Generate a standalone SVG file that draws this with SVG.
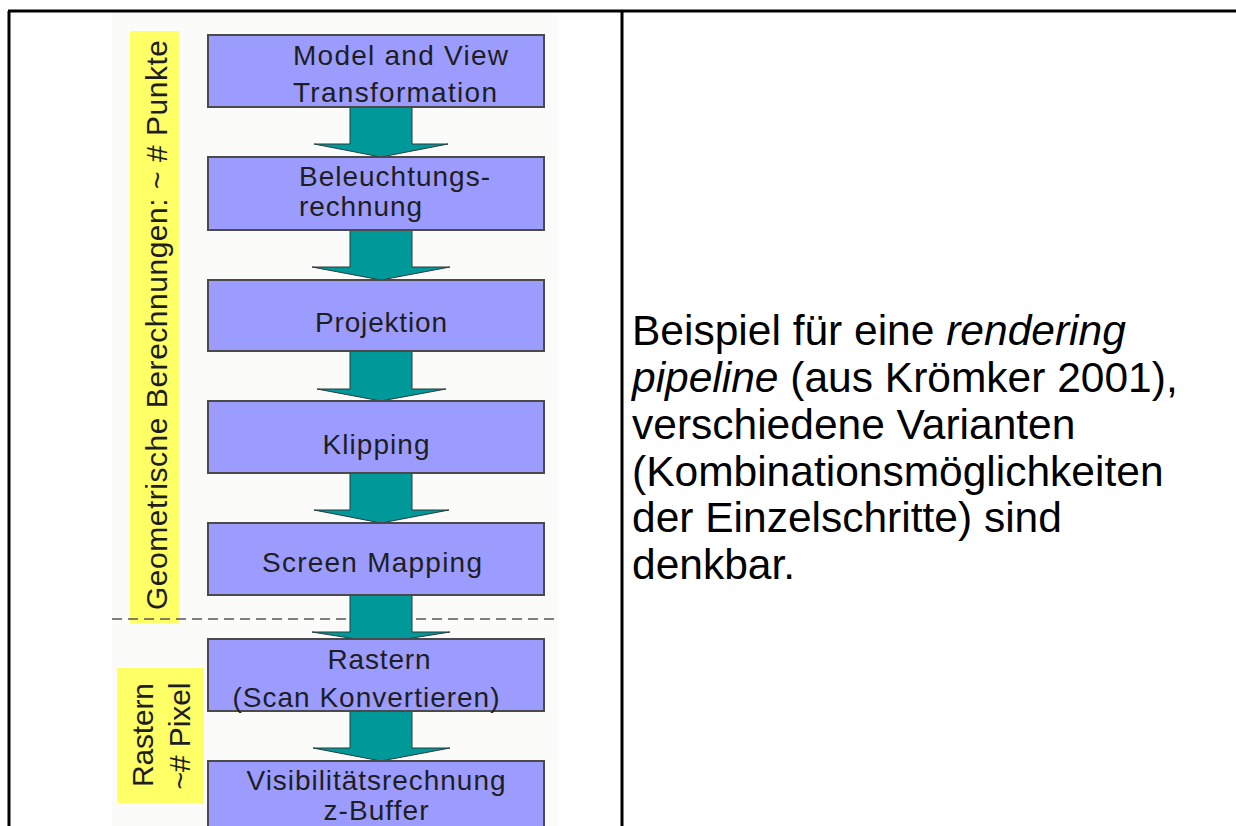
<svg xmlns="http://www.w3.org/2000/svg" width="1236" height="826" viewBox="0 0 1236 826">
<style>
.bx{fill:#9c9cff;stroke:#4a4a4a;stroke-width:2}
.bt{font-family:"Liberation Sans",Arial,sans-serif;font-size:28px;fill:#1e1e1e}
.vt{font-family:"Liberation Sans",Arial,sans-serif;font-size:30px;fill:#1e1e1e}
.yl{fill:#ffff66}
.ar{fill:#009999;stroke:#2a3a3a;stroke-width:1}
.rt{font-family:"Liberation Sans",Arial,sans-serif;font-size:42.5px;fill:#000}
</style>
<rect x="0" y="0" width="1236" height="826" fill="#fff"/>
<rect x="112" y="13" width="446" height="813" fill="#fbfcf9"/>
<g id="table" fill="none" stroke="#000" stroke-width="3">
<line x1="8" y1="11" x2="1236" y2="11"/>
<line x1="9" y1="11" x2="9" y2="826"/>
<line x1="622" y1="11" x2="622" y2="826"/>
</g>
<g id="label-geometrie">
<rect class="yl" x="130" y="31" width="49" height="592"/>
<text class="vt" transform="translate(167,325) rotate(-90)" text-anchor="middle" textLength="570" lengthAdjust="spacing">Geometrische Berechnungen:  ~ # Punkte</text>
</g>
<g id="label-raster">
<rect class="yl" x="117" y="668" width="87" height="135"/>
<text class="vt" transform="translate(153,735) rotate(-90)" text-anchor="middle" textLength="104" lengthAdjust="spacing">Rastern</text>
<text class="vt" transform="translate(190,736) rotate(-90)" text-anchor="middle" textLength="107" lengthAdjust="spacing">~# Pixel</text>
</g>
<line id="divider" x1="112" y1="619" x2="558" y2="619" stroke="#555" stroke-width="1.5" stroke-dasharray="10 6"/>
<g id="connectors">
<polygon class="ar" points="350,107 412,107 412,144 448,144 381,157 314,144 350,144"/>
<polygon class="ar" points="350,230 412,230 412,267 450,267 381,280 312,267 350,267"/>
<polygon class="ar" points="350,351 412,351 412,389 446,389 381,401 317,389 350,389"/>
<polygon class="ar" points="350,473 412,473 412,510 449,510 381,523 314,510 350,510"/>
<polygon class="ar" points="350,595 412,595 412,632 450,632 381,643 312,632 350,632"/>
<polygon class="ar" points="350,711 412,711 412,748 450,748 381,761 313,748 350,748"/>
</g>
<g id="n1"><rect class="bx" x="208" y="35" width="336" height="72"/>
<text class="bt" x="293" y="65" textLength="215" lengthAdjust="spacing">Model and View</text>
<text class="bt" x="293" y="102" textLength="204" lengthAdjust="spacing">Transformation</text></g>
<g id="n2"><rect class="bx" x="208" y="157" width="336" height="73"/>
<text class="bt" x="299" y="186" font-size="26" textLength="191" lengthAdjust="spacing">Beleuchtungs-</text>
<text class="bt" x="299" y="216" font-size="26" textLength="123" lengthAdjust="spacing">rechnung</text></g>
<g id="n3"><rect class="bx" x="208" y="280" width="336" height="71"/>
<text class="bt" x="381" y="332" text-anchor="middle" textLength="132" lengthAdjust="spacing">Projektion</text></g>
<g id="n4"><rect class="bx" x="208" y="401" width="336" height="72"/>
<text class="bt" x="376" y="454" text-anchor="middle" textLength="107" lengthAdjust="spacing">Klipping</text></g>
<g id="n5"><rect class="bx" x="208" y="523" width="336" height="72"/>
<text class="bt" x="372" y="572" text-anchor="middle" textLength="220" lengthAdjust="spacing">Screen Mapping</text></g>
<g id="n6"><rect class="bx" x="208" y="639" width="336" height="72"/>
<text class="bt" x="379" y="669" text-anchor="middle" textLength="103" lengthAdjust="spacing">Rastern</text>
<text class="bt" x="366" y="707" text-anchor="middle" textLength="267" lengthAdjust="spacing">(Scan Konvertieren)</text></g>
<g id="n7"><rect class="bx" x="208" y="761" width="336" height="80"/>
<text class="bt" x="376" y="790" text-anchor="middle" textLength="259" lengthAdjust="spacing">Visibilitätsrechnung</text>
<text class="bt" x="376" y="820" text-anchor="middle" textLength="105" lengthAdjust="spacing">z-Buffer</text></g>
<g id="caption">
<text class="rt" x="632" y="345">Beispiel für eine <tspan font-style="italic">rendering</tspan></text>
<text class="rt" x="632" y="392"><tspan font-style="italic">pipeline</tspan> (aus Krömker 2001),</text>
<text class="rt" x="632" y="439">verschiedene Varianten</text>
<text class="rt" x="632" y="486">(Kombinationsmöglichkeiten</text>
<text class="rt" x="632" y="532">der Einzelschritte) sind</text>
<text class="rt" x="632" y="579">denkbar.</text>
</g>
</svg>
